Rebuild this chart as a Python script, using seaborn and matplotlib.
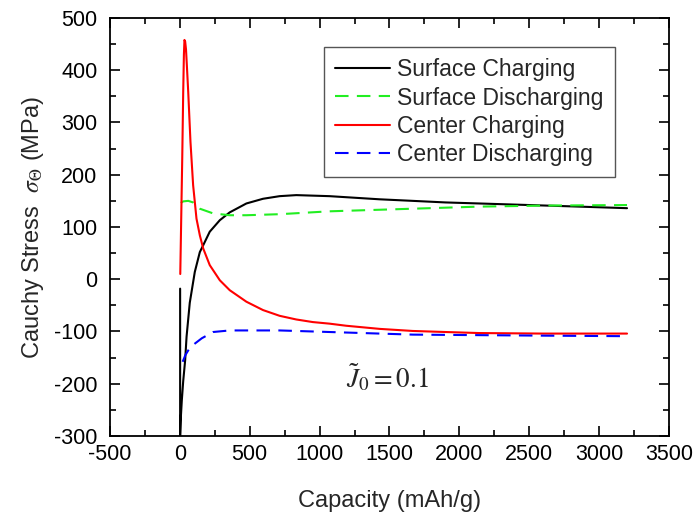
import numpy as np
import pandas as pd
import matplotlib
matplotlib.use("Agg")
import matplotlib.pyplot as plt
from matplotlib.ticker import MultipleLocator
import seaborn as sns

# Hoop (Cauchy) stress vs. capacity at particle surface and center
surface_chg_x = [2, 2, 8, 14, 24, 38, 48, 71, 107, 143, 167, 214, 286, 357, 476, 595, 714,
                 833, 952, 1071, 1190, 1429, 1667, 1900, 2143, 2381, 2619, 2857, 3200]
surface_chg_y = [-18, -300, -260, -232, -195, -155, -110, -45, 14, 52, 65, 91, 113, 128, 145,
                 154, 159, 161, 160, 159, 157, 153, 150, 147, 145, 143, 141, 139, 136]

surface_dis_x = [7, 24, 60, 95, 143, 238, 357, 476, 714, 1071, 1429, 1786, 2143, 2619, 3200]
surface_dis_y = [146, 149, 150, 147, 135, 126, 122.5, 122.5, 124.5, 130, 133, 136, 139, 141, 142]

center_chg_x = [3, 17, 24, 29, 33, 38, 44, 50, 60, 76, 95, 119, 143, 167, 214, 286, 357, 476,
                595, 714, 833, 952, 1071, 1190, 1429, 1667, 1900, 2143, 2600, 3200]
center_chg_y = [10, 230, 358, 430, 458, 455, 440, 410, 358, 263, 180, 116, 84, 59, 27, -2, -21,
                -43, -59, -70, -77, -82, -85, -89, -95, -99, -101, -103, -104, -104]

center_dis_x = [20, 40, 74, 157, 238, 357, 714, 1071, 1429, 1667, 2143, 2619, 3200]
center_dis_y = [-158, -145, -130, -113, -101, -98, -98, -101, -104, -106, -107, -108, -109]

series_names = ["Surface Charging", "Surface Discharging", "Center Charging", "Center Discharging"]

frames = []
for name, xs, ys in zip(series_names,
                        [surface_chg_x, surface_dis_x, center_chg_x, center_dis_x],
                        [surface_chg_y, surface_dis_y, center_chg_y, center_dis_y]):
    frames.append(pd.DataFrame({"capacity": xs, "stress": ys, "series": name}))
df = pd.concat(frames, ignore_index=True)

sns.set_style("white")
plt.rcParams["font.family"] = ["Liberation Sans", "DejaVu Sans"]
plt.rcParams["mathtext.fontset"] = "stix"
plt.rcParams["axes.unicode_minus"] = False

fig = plt.figure(figsize=(6.93, 5.17), dpi=100)
ax = fig.add_axes([0.1587, 0.1567, 0.8066, 0.8085])

palette = {"Surface Charging": "#000000", "Surface Discharging": "#22ee22",
           "Center Charging": "#ff0000", "Center Discharging": "#0000ff"}
dashes = {"Surface Charging": "", "Surface Discharging": (6.5, 4),
          "Center Charging": "", "Center Discharging": (6.5, 4)}

sns.lineplot(data=df, x="capacity", y="stress", hue="series", style="series",
             hue_order=series_names, style_order=series_names,
             palette=palette, dashes=dashes, sort=False, estimator=None,
             linewidth=1.5, ax=ax)

ax.set_xlim(-500, 3500)
ax.set_ylim(-300, 500)
ax.xaxis.set_major_locator(MultipleLocator(500))
ax.xaxis.set_minor_locator(MultipleLocator(250))
ax.yaxis.set_major_locator(MultipleLocator(100))
ax.yaxis.set_minor_locator(MultipleLocator(50))
ax.tick_params(which="both", direction="in", top=True, right=True, left=True, bottom=True,
               width=1.2, labelsize=15.5, colors="black")
ax.tick_params(which="major", length=7)
ax.tick_params(which="minor", length=4)
ax.tick_params(axis="y", pad=9)
ax.tick_params(axis="x", pad=6)
for s in ax.spines.values():
    s.set_linewidth(1.3)
    s.set_color("black")

ax.set_xlabel("Capacity (mAh/g)", fontsize=17, labelpad=18)
ax.set_ylabel(r"Cauchy Stress  $\sigma_{\Theta}$ (MPa)", fontsize=17, labelpad=6)

ax.text(1485, -188, r"$\tilde{J}_0 = 0.1$", fontsize=19.5, ha="center", va="center")

handles, labels = ax.get_legend_handles_labels()
leg = ax.legend(handles, labels, loc="upper right",
                bbox_to_anchor=(615 / 693, 1 - 47 / 517), bbox_transform=fig.transFigure,
                borderaxespad=0, fontsize=16.5, frameon=True, fancybox=False,
                framealpha=1, edgecolor="#555555", handlelength=2.4,
                handletextpad=0.3, labelspacing=0.22, borderpad=0.5)
leg.get_frame().set_linewidth(1.0)

fig.savefig("out.png", dpi=100)
